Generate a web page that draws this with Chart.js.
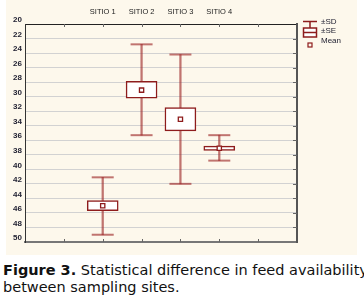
<!DOCTYPE html>
<html>
<head>
<meta charset="utf-8">
<script src="https://cdn.jsdelivr.net/npm/chart.js@4"></script>
<style>
  html, body { margin: 0; padding: 0; background: #fff; }
  #panel { position: absolute; left: 6px; top: 0; width: 351px; height: 255px; background: #fdf8ec; }
  #caption { position: absolute; left: 3px; top: 262px; width: 364px; font-family: "DejaVu Sans", sans-serif;
             font-size: 14.5px; line-height: 17px; color: #111; white-space: nowrap; }
</style>
</head>
<body>
<div id="panel"><canvas id="chart" width="351" height="255"></canvas></div>
<div id="caption"><b>Figure 3.</b> Statistical difference in feed availability<br>between sampling sites.</div>
<script>
const categories = ['SITIO 1', 'SITIO 2', 'SITIO 3', 'SITIO 4'];
const means  = [45.0, 29.1, 33.1, 37.1];
const seLow  = [44.3, 27.9, 31.5, 36.8];
const seHigh = [45.7, 30.2, 34.7, 37.4];
const sdLow  = [41.1, 22.8, 24.2, 35.3];
const sdHigh = [49.0, 35.3, 42.0, 38.8];
const legendLabels = ['\u00b1SD', '\u00b1SE', 'Mean'];

const boxColor = '#8e1c1c';
const whiskerColor = 'rgba(160,45,45,0.65)';

// sites sit at x = 2..5 on an axis running 0..7
const xs = categories.map((c, i) => i + 2);

const innerTicks = {
  id: 'innerTicks',
  afterDraw(chart) {
    const ctx = chart.ctx, a = chart.chartArea;
    const x = chart.scales.x, y = chart.scales.y;
    ctx.save();
    ctx.strokeStyle = '#666';
    ctx.lineWidth = 1;
    ctx.beginPath();
    for (let v = 1; v < 7; v++) {
      const px = Math.round(x.getPixelForValue(v)) + 0.5;
      ctx.moveTo(px, a.top); ctx.lineTo(px, a.top + 3);
      ctx.moveTo(px, a.bottom); ctx.lineTo(px, a.bottom - 3);
    }
    for (let v = 22; v < 50; v += 2) {
      const py = Math.round(y.getPixelForValue(v)) + 0.5;
      ctx.moveTo(a.right, py); ctx.lineTo(a.right - 4, py);
    }
    ctx.stroke();

    // legend
    const lx = 297, ly = 21.5;
    ctx.strokeStyle = boxColor;
    ctx.lineWidth = 1.5;
    ctx.beginPath();
    ctx.moveTo(lx, ly); ctx.lineTo(lx + 14, ly);
    ctx.moveTo(lx + 7, ly); ctx.lineTo(lx + 7, ly + 6.5);
    ctx.stroke();
    ctx.fillStyle = '#fff';
    ctx.fillRect(lx + 0.5, ly + 6.5, 13, 9);
    ctx.strokeRect(lx + 0.5, ly + 6.5, 13, 9);
    ctx.beginPath();
    ctx.moveTo(lx + 0.5, ly + 11); ctx.lineTo(lx + 13.5, ly + 11);
    ctx.stroke();
    ctx.lineWidth = 1.2;
    ctx.strokeRect(lx + 5, ly + 21.5, 4, 4);
    ctx.fillStyle = '#223';
    ctx.font = '8px "Liberation Sans", Arial, sans-serif';
    ctx.textBaseline = 'middle';
    legendLabels.forEach((t, i) => ctx.fillText(t, lx + 18, ly + i * 9.5));
    ctx.restore();
  }
};

const config = {
  type: 'bar',
  data: {
    datasets: [
      {
        label: legendLabels[0],
        data: xs.map((x, i) => ({ x: x, y: [sdLow[i], sdHigh[i]] })),
        backgroundColor: whiskerColor,
        barThickness: 1.6,
        grouped: false,
        order: 4
      },
      {
        type: 'scatter',
        label: 'caps',
        data: xs.map((x, i) => ({ x: x, y: sdLow[i] })).concat(xs.map((x, i) => ({ x: x, y: sdHigh[i] }))),
        pointStyle: 'line',
        radius: 11,
        borderColor: whiskerColor,
        borderWidth: 2,
        order: 3
      },
      {
        label: legendLabels[1],
        data: xs.map((x, i) => ({ x: x, y: [seLow[i], seHigh[i]] })),
        backgroundColor: '#fff',
        borderColor: boxColor,
        borderWidth: 1.5,
        borderSkipped: false,
        barThickness: 31,
        grouped: false,
        order: 2
      },
      {
        type: 'scatter',
        label: legendLabels[2],
        data: xs.map((x, i) => ({ x: x, y: means[i] })),
        pointStyle: 'rect',
        radius: 3,
        backgroundColor: '#fff',
        borderColor: boxColor,
        borderWidth: 1.3,
        order: 1
      }
    ]
  },
  options: {
    responsive: false,
    animation: false,
    events: [],
    layout: { padding: { top: 0, left: 0, right: 60, bottom: 7 } },
    plugins: { legend: { display: false }, tooltip: { enabled: false } },
    scales: {
      x: {
        type: 'linear', position: 'top', min: 0, max: 7, offset: false,
        afterFit: s => { s.height = 24; },
        ticks: {
          stepSize: 1, autoSkip: false, maxRotation: 0, padding: 8,
          color: '#222', font: { family: '"Liberation Sans", Arial, sans-serif', size: 7.5 },
          callback: v => categories[v - 2] || ''
        },
        grid: { drawOnChartArea: false, drawTicks: false, offset: false },
        border: { color: '#222', width: 1 }
      },
      x2: {
        type: 'linear', position: 'bottom', min: 0, max: 7, offset: false,
        afterFit: s => { s.height = 0; },
        ticks: { display: false },
        grid: { drawOnChartArea: false, drawTicks: false, offset: false },
        border: { color: '#777', width: 2 }
      },
      y: {
        type: 'linear', reverse: true, min: 20, max: 50,
        afterFit: s => { s.width = 19; },
        ticks: {
          stepSize: 2, padding: 3, labelOffset: -4,
          color: '#223', font: { family: '"Liberation Sans", Arial, sans-serif', size: 8, weight: 'bold' }
        },
        grid: {
          drawTicks: false,
          color: c => (c.tick.value === 20 || c.tick.value === 50) ? 'rgba(0,0,0,0)' : '#d2d2d2',
          lineWidth: 1
        },
        border: { color: '#333', width: 1 }
      },
      y2: {
        type: 'linear', position: 'right', reverse: true, min: 20, max: 50,
        afterFit: s => { s.width = 0; },
        ticks: { display: false },
        grid: { drawOnChartArea: false, drawTicks: false },
        border: { color: '#555', width: 2 }
      }
    }
  },
  plugins: [innerTicks]
};

var chart = new Chart(document.getElementById('chart'), config);
</script>
</body>
</html>
